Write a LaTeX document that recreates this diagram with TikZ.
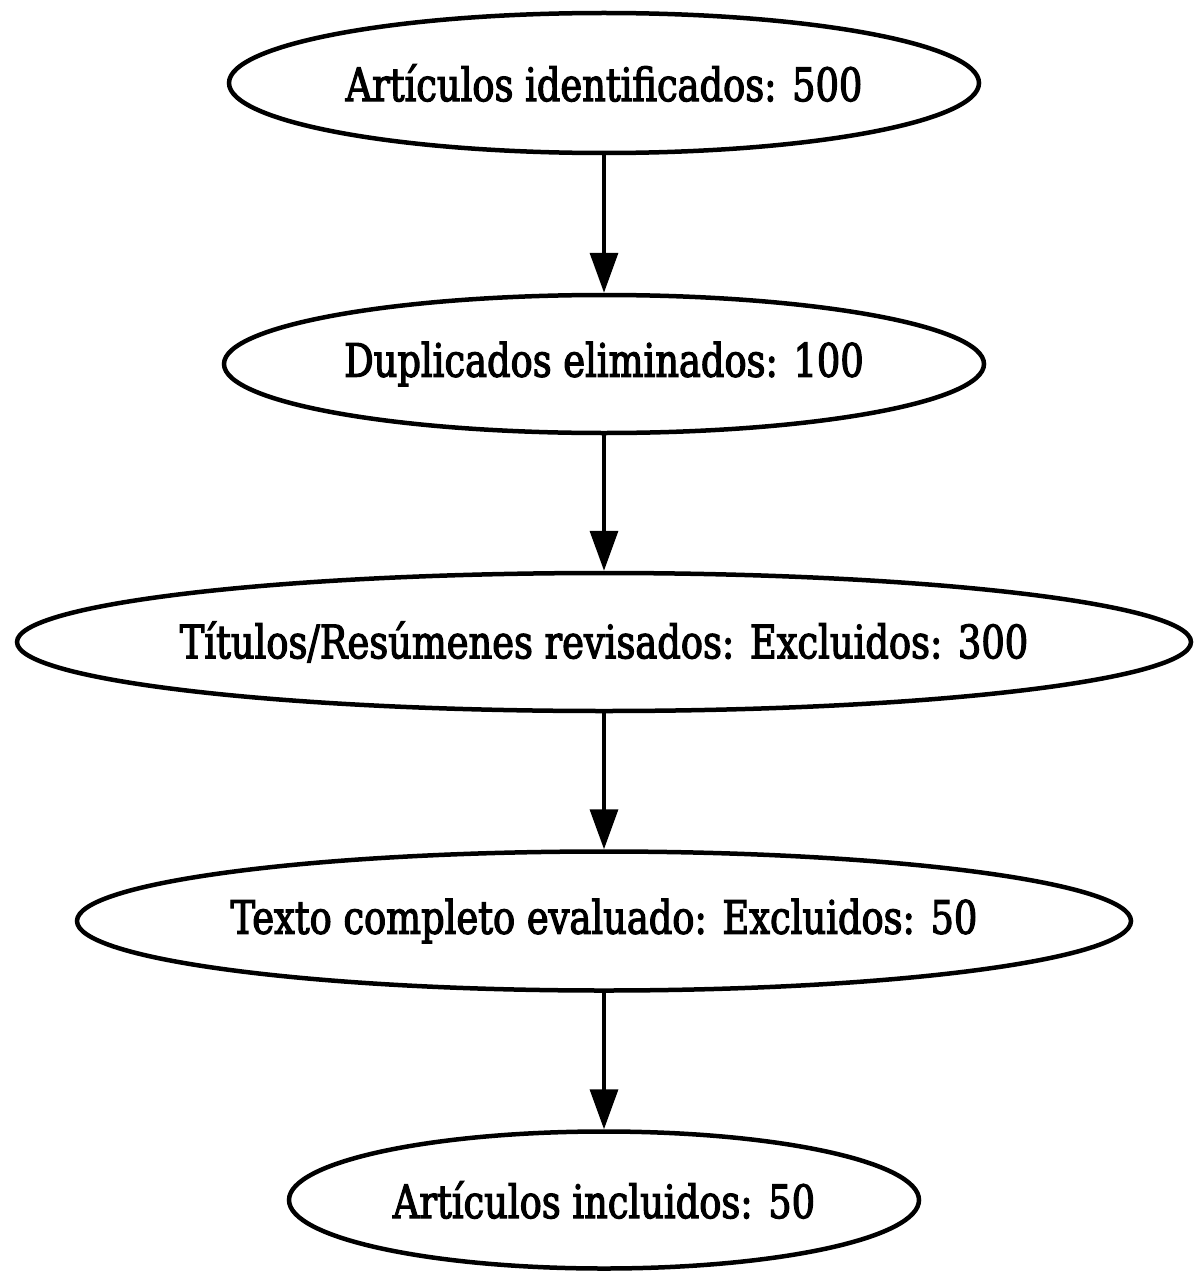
\documentclass[tikz,border=0pt]{standalone}
\usepackage{fontspec}
\setmainfont{DejaVu Serif}[FakeStretch=0.80,FakeBold=2.5]
\usetikzlibrary{shapes.geometric,arrows.meta}
\newcommand{\lbl}[1]{\makebox[0pt][c]{#1}}
\begin{document}
\begin{tikzpicture}[x=1pt,y=-1pt,
  stage/.style={ellipse,draw=black,line width=4.5pt,inner sep=0pt,
    font=\fontsize{46}{50}\selectfont,text=black},
  flow/.style={line width=3.5pt,-{Triangle[length=40pt,width=28pt]}}]
\useasboundingbox (0,0) rectangle (1194,1276);
\node[stage,minimum width=750pt,minimum height=140pt] (a) at (604,83) {\lbl{Artículos identificados: 500}};
\node[stage,minimum width=760pt,minimum height=138pt] (b) at (604,364) {\lbl{Duplicados eliminados: 100}};
\node[stage,minimum width=1174pt,minimum height=138pt] (c) at (604,642) {\lbl{Títulos/Resúmenes revisados: Excluidos: 300}};
\node[stage,minimum width=1054pt,minimum height=139pt] (d) at (604,921) {\lbl{Texto completo evaluado: Excluidos: 50}};
\node[stage,minimum width=630pt,minimum height=137pt] (e) at (604,1200) {\lbl{Artículos incluidos: 50}};
\draw[flow] (a) -- (b);
\draw[flow] (b) -- (c);
\draw[flow] (c) -- (d);
\draw[flow] (d) -- (e);
\end{tikzpicture}
\end{document}
